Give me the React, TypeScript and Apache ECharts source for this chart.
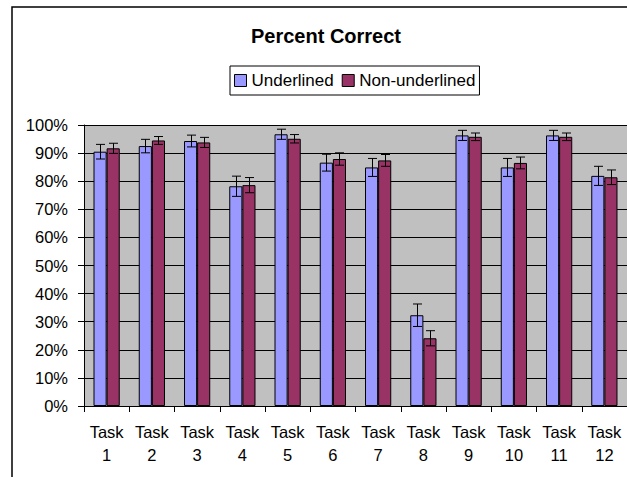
import React, { useEffect, useRef } from "react";
import * as echarts from "echarts";

const categories = ["Task\n1", "Task\n2", "Task\n3", "Task\n4", "Task\n5", "Task\n6", "Task\n7", "Task\n8", "Task\n9", "Task\n10", "Task\n11", "Task\n12"];
const underlined = [90.5, 92.5, 94.3, 78.2, 96.7, 86.6, 84.9, 32.3, 96.3, 84.9, 96.3, 81.9];
const nonUnderlined = [91.7, 94.5, 93.8, 78.6, 95.1, 87.9, 87.4, 24.1, 95.8, 86.5, 95.8, 81.4];
const underlinedErr = [2.6, 2.4, 2.1, 3.6, 1.8, 3.0, 3.2, 4.0, 1.8, 3.2, 1.8, 3.4];
const nonUnderlinedErr = [1.8, 1.4, 1.8, 2.7, 1.5, 2.2, 2.1, 2.7, 1.35, 2.1, 1.35, 2.6];

const FONT = "'Liberation Sans', Arial, sans-serif";
const CAT_GAP = 0.42;

function errorSeries(values: number[], errs: number[], side: number) {
  return {
    type: "custom",
    name: side < 0 ? "UnderlinedErr" : "NonUnderlinedErr",
    z: 5,
    silent: true,
    encode: { x: 0, y: [1, 2] },
    data: values.map((v, i) => [i, v - errs[i], v + errs[i]]),
    renderItem: (params: any, api: any) => {
      const idx = api.value(0);
      const band = api.size([1, 0])[0];
      const barW = (band * (1 - CAT_GAP)) / 2;
      const top = api.coord([idx, api.value(2)]);
      const bot = api.coord([idx, api.value(1)]);
      const x = Math.round(top[0] + (side * barW) / 2) + 0.5;
      const cap = 4.5;
      const st = { stroke: "#000", lineWidth: 1 };
      return {
        type: "group",
        children: [
          { type: "line", shape: { x1: x, y1: top[1], x2: x, y2: bot[1] }, style: st },
          { type: "line", shape: { x1: x - cap, y1: top[1], x2: x + cap, y2: top[1] }, style: st },
          { type: "line", shape: { x1: x - cap, y1: bot[1], x2: x + cap, y2: bot[1] }, style: st },
        ],
      };
    },
  };
}

export default function App() {
  const ref = useRef<HTMLDivElement>(null);
  useEffect(() => {
    if (!ref.current) return;
    const chart = echarts.init(ref.current, null, { renderer: "svg" });
    chart.setOption({
      animation: false,
      backgroundColor: "#fff",
      textStyle: { fontFamily: FONT },
      title: {
        text: "Percent Correct",
        left: 326,
        top: 26,
        textAlign: "center",
        padding: 0,
        textStyle: { fontFamily: FONT, fontSize: 20, fontWeight: "bold", color: "#000" },
      },
      legend: {
        data: ["Underlined", "Non-underlined"],
        left: 230,
        top: 66,
        orient: "horizontal",
        padding: [6, 4, 6, 4],
        itemGap: 8,
        itemWidth: 12,
        itemHeight: 12,
        icon: "rect",
        borderColor: "#000",
        borderWidth: 1,
        backgroundColor: "#fff",
        borderRadius: 0,
        itemStyle: { borderColor: "#000", borderWidth: 1 },
        textStyle: { fontFamily: FONT, fontSize: 17, color: "#000", padding: [0, 0, 0, 0] },
      },
      grid: {
        left: 84,
        top: 125,
        width: 545,
        height: 281,
        show: true,
        backgroundColor: "#C0C0C0",
        borderWidth: 0,
        containLabel: false,
      },
      xAxis: {
        type: "category",
        data: categories,
        boundaryGap: true,
        axisLine: { show: true, lineStyle: { color: "#000", width: 1 } },
        axisTick: { show: true, length: 6, inside: false, alignWithLabel: false, lineStyle: { color: "#000" } },
        axisLabel: {
          interval: 0,
          margin: 14,
          color: "#000",
          fontFamily: FONT,
          fontSize: 16.5,
          lineHeight: 23,
          align: "center",
        },
        splitLine: { show: false },
      },
      yAxis: {
        type: "value",
        min: 0,
        max: 100,
        interval: 10,
        axisLine: { show: true, lineStyle: { color: "#000", width: 1 } },
        axisTick: { show: true, length: 6, inside: false, lineStyle: { color: "#000" } },
        axisLabel: {
          formatter: "{value}%",
          margin: 16,
          color: "#000",
          fontFamily: FONT,
          fontSize: 16.5,
        },
        splitLine: { show: true, lineStyle: { color: "#000", width: 1 } },
      },
      series: [
        {
          name: "Underlined",
          type: "bar",
          data: underlined,
          barGap: "0%",
          barCategoryGap: CAT_GAP * 100 + "%",
          itemStyle: { color: "#9999FF", borderColor: "#000", borderWidth: 1 },
        },
        {
          name: "Non-underlined",
          type: "bar",
          data: nonUnderlined,
          barGap: "0%",
          barCategoryGap: CAT_GAP * 100 + "%",
          itemStyle: { color: "#993366", borderColor: "#000", borderWidth: 1 },
        },
        errorSeries(underlined, underlinedErr, -1),
        errorSeries(nonUnderlined, nonUnderlinedErr, 1),
      ],
      graphic: [
        {
          type: "rect",
          z: 100,
          silent: true,
          shape: { x: 12, y: 7, width: 700, height: 600 },
          style: { fill: "none", stroke: "#000", lineWidth: 1.5 },
        },
      ],
    });
    return () => chart.dispose();
  }, []);
  return (
    <div
      ref={ref}
      style={{ position: "fixed", left: 0, top: 0, width: 627, height: 477 }}
    />
  );
}
